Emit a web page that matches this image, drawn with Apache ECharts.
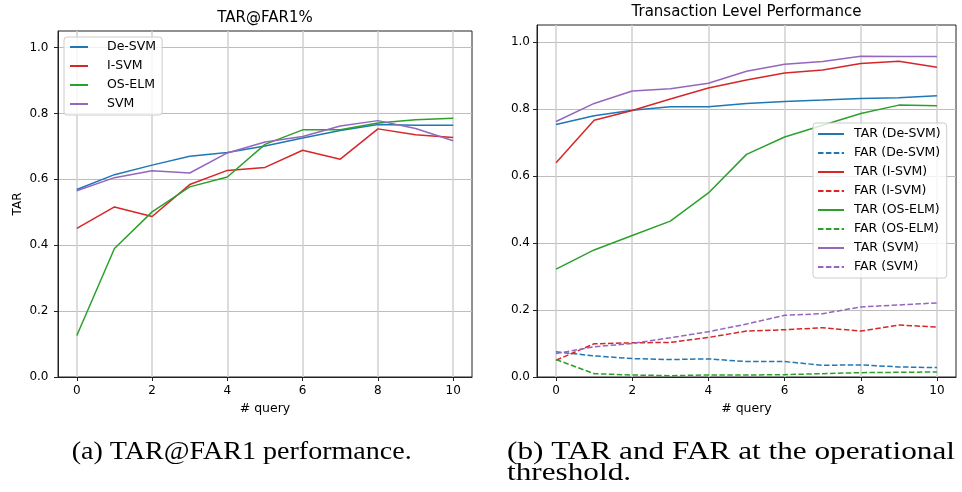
<!DOCTYPE html>
<html>
<head>
<meta charset="utf-8">
<script src="https://cdn.jsdelivr.net/npm/echarts@6/dist/echarts.min.js"></script>
<style>
html,body{margin:0;padding:0;background:#fff;}
#chart{width:962px;height:492px;}
</style>
</head>
<body>
<div id="chart"></div>
<script>
// ---- data ----
const queries = [0,1,2,3,4,5,6,7,8,9,10];
const xTicks = [0,2,4,6,8,10];
const yTicks = [0,0.2,0.4,0.6,0.8,1.0];

// (a) TAR@FAR1%
const leftNames = ['De-SVM','I-SVM','OS-ELM','SVM'];
const deSvmTar1 = [0.569,0.614,0.643,0.670,0.681,0.701,0.725,0.748,0.766,0.764,0.764];
const iSvmTar1  = [0.451,0.516,0.487,0.584,0.627,0.636,0.688,0.661,0.753,0.735,0.727];
const osElmTar1 = [0.126,0.390,0.501,0.577,0.607,0.706,0.750,0.750,0.771,0.781,0.785];
const svmTar1   = [0.565,0.605,0.626,0.619,0.680,0.713,0.730,0.762,0.778,0.754,0.717];

// (b) Transaction Level Performance
const rightNames = ['TAR (De-SVM)','FAR (De-SVM)','TAR (I-SVM)','FAR (I-SVM)','TAR (OS-ELM)','FAR (OS-ELM)','TAR (SVM)','FAR (SVM)'];
const tarDeSvm = [0.753,0.779,0.796,0.806,0.806,0.816,0.822,0.826,0.831,0.833,0.839];
const farDeSvm = [0.075,0.063,0.055,0.052,0.054,0.046,0.046,0.035,0.036,0.030,0.028];
const tarISvm  = [0.639,0.766,0.795,0.829,0.862,0.886,0.907,0.916,0.935,0.942,0.924];
const farISvm  = [0.050,0.099,0.102,0.103,0.118,0.137,0.141,0.147,0.137,0.155,0.149];
const tarOsElm = [0.322,0.379,0.422,0.465,0.549,0.664,0.716,0.751,0.786,0.811,0.809];
const farOsElm = [0.052,0.010,0.006,0.004,0.006,0.006,0.007,0.010,0.013,0.014,0.015];
const tarSvm   = [0.762,0.816,0.853,0.860,0.876,0.912,0.933,0.941,0.957,0.956,0.956];
const farSvm   = [0.070,0.090,0.100,0.117,0.135,0.158,0.184,0.189,0.209,0.215,0.221];

const titleA = 'TAR@FAR1%';
const titleB = 'Transaction Level Performance';
const captionA = '(a) TAR@FAR1 performance.';
const captionB1 = '(b) TAR and FAR at the operational';
const captionB2 = 'threshold.';

// ---- styles ----
const C = {blue:'#1f77b4', red:'#d62728', green:'#2ca02c', purple:'#9467bd'};
const FONT = "'DejaVu Sans', sans-serif";
const SERIF = "'Liberation Serif', 'DejaVu Serif', serif";

function pairs(arr){ return queries.map((q,i)=>[q, arr[i]]); }

function measure(text, font){
  const c = document.createElement('canvas').getContext('2d');
  c.font = font;
  return c.measureText(text).width;
}

function xAxisCfg(gi){
  return {
    type:'value', gridIndex:gi, min:-0.5, max:10.5,
    name:'# query', nameLocation:'middle', nameGap:24,
    nameTextStyle:{fontSize:12.5, color:'#000', fontFamily:FONT},
    axisLine:{show:true, onZero:false, lineStyle:{color:'#222', width:1}},
    axisTick:{show:true, customValues:xTicks, length:4, lineStyle:{color:'#222', width:1}},
    axisLabel:{customValues:xTicks, margin:8, fontSize:12, color:'#000', fontFamily:FONT},
    splitLine:{show:true, lineStyle:{color:'#d0d0d0', width:1.5}}
  };
}
function yAxisCfg(gi, name){
  return {
    type:'value', gridIndex:gi, min:0, max:1.05,
    name:name, nameLocation:'middle', nameGap:34,
    nameTextStyle:{fontSize:12, color:'#000', fontFamily:FONT},
    axisLine:{show:true, onZero:false, lineStyle:{color:'#222', width:1}},
    axisTick:{show:true, customValues:yTicks, length:4, lineStyle:{color:'#222', width:1}},
    axisLabel:{customValues:yTicks, margin: gi===0 ? 9.5 : 7, fontSize:12, color:'#000', fontFamily:FONT,
      formatter:(v)=>Number(v).toFixed(1)},
    splitLine:{show:true, lineStyle:{color:'#bdbdbd', width:1}}
  };
}
function line(name, data, color, gi, dashed){
  return {
    type:'line', name:name, xAxisIndex:gi, yAxisIndex:gi,
    data:pairs(data), showSymbol:false, symbol:'none', smooth:false,
    lineStyle:{color:color, width:1.5, type: dashed ? [5.5,2.4] : 'solid'},
    itemStyle:{color:color},
    emphasis:{disabled:true}
  };
}

const fontA = '25px ' + SERIF;
const wA = measure(captionA, fontA);
const wB = measure(captionB1, fontA);
const scaleA = 340 / wA;
const scaleB = 448 / wB;

const legendCommon = {
  orient:'vertical', itemHeight:14, itemGap:5,
  backgroundColor:'rgba(255,255,255,0.8)', borderColor:'#cccccc', borderWidth:1, borderRadius:3,
  itemStyle:{color:'rgba(0,0,0,0)', borderWidth:0, opacity:0},
  selectedMode:false
};

const option = {
  animation:false,
  backgroundColor:'#fff',
  textStyle:{fontFamily:FONT},
  grid:[
    {left:58, top:31, width:414, height:346, show:true, borderColor:'#222', borderWidth:1, containLabel:false},
    {left:537, top:25, width:419, height:352, show:true, borderColor:'#222', borderWidth:1, containLabel:false}
  ],
  xAxis:[xAxisCfg(0), xAxisCfg(1)],
  yAxis:[yAxisCfg(0,'TAR'), yAxisCfg(1,'')],
  legend:[
    Object.assign({}, legendCommon, {data:leftNames, left:64, top:37, itemWidth:18, padding:[3,6,4,5],
     textStyle:{fontSize:12.5, color:'#000', fontFamily:FONT, lineHeight:14, padding:[0,0,0,14]}}),
    Object.assign({}, legendCommon, {data:rightNames, left:813, top:123, itemWidth:26, padding:[4,6,4,4],
     textStyle:{fontSize:12.5, color:'#000', fontFamily:FONT, lineHeight:14, padding:[0,0,0,5]}})
  ],
  series:[
    line('De-SVM', deSvmTar1, C.blue, 0, false),
    line('I-SVM', iSvmTar1, C.red, 0, false),
    line('OS-ELM', osElmTar1, C.green, 0, false),
    line('SVM', svmTar1, C.purple, 0, false),
    line('TAR (De-SVM)', tarDeSvm, C.blue, 1, false),
    line('FAR (De-SVM)', farDeSvm, C.blue, 1, true),
    line('TAR (I-SVM)', tarISvm, C.red, 1, false),
    line('FAR (I-SVM)', farISvm, C.red, 1, true),
    line('TAR (OS-ELM)', tarOsElm, C.green, 1, false),
    line('FAR (OS-ELM)', farOsElm, C.green, 1, true),
    line('TAR (SVM)', tarSvm, C.purple, 1, false),
    line('FAR (SVM)', farSvm, C.purple, 1, true)
  ],
  graphic:[
    {type:'text', x:265, y:18, style:{text:titleA, font:'15px '+FONT, fill:'#000', align:'center', verticalAlign:'middle'}},
    {type:'text', x:746.5, y:12, style:{text:titleB, font:'15px '+FONT, fill:'#000', align:'center', verticalAlign:'middle'}},
    {type:'text', x:71.7, y:452.6, scaleX:scaleA, style:{text:captionA, font:fontA, fill:'#000', align:'left', verticalAlign:'middle'}},
    {type:'text', x:507, y:452.6, scaleX:scaleB, style:{text:captionB1, font:fontA, fill:'#000', align:'left', verticalAlign:'middle'}},
    {type:'text', x:507, y:473, scaleX:scaleB, style:{text:captionB2, font:fontA, fill:'#000', align:'left', verticalAlign:'middle'}}
  ]
};

const chart = echarts.init(document.getElementById('chart'), null, {renderer:'canvas'});
chart.setOption(option);
</script>
</body>
</html>
